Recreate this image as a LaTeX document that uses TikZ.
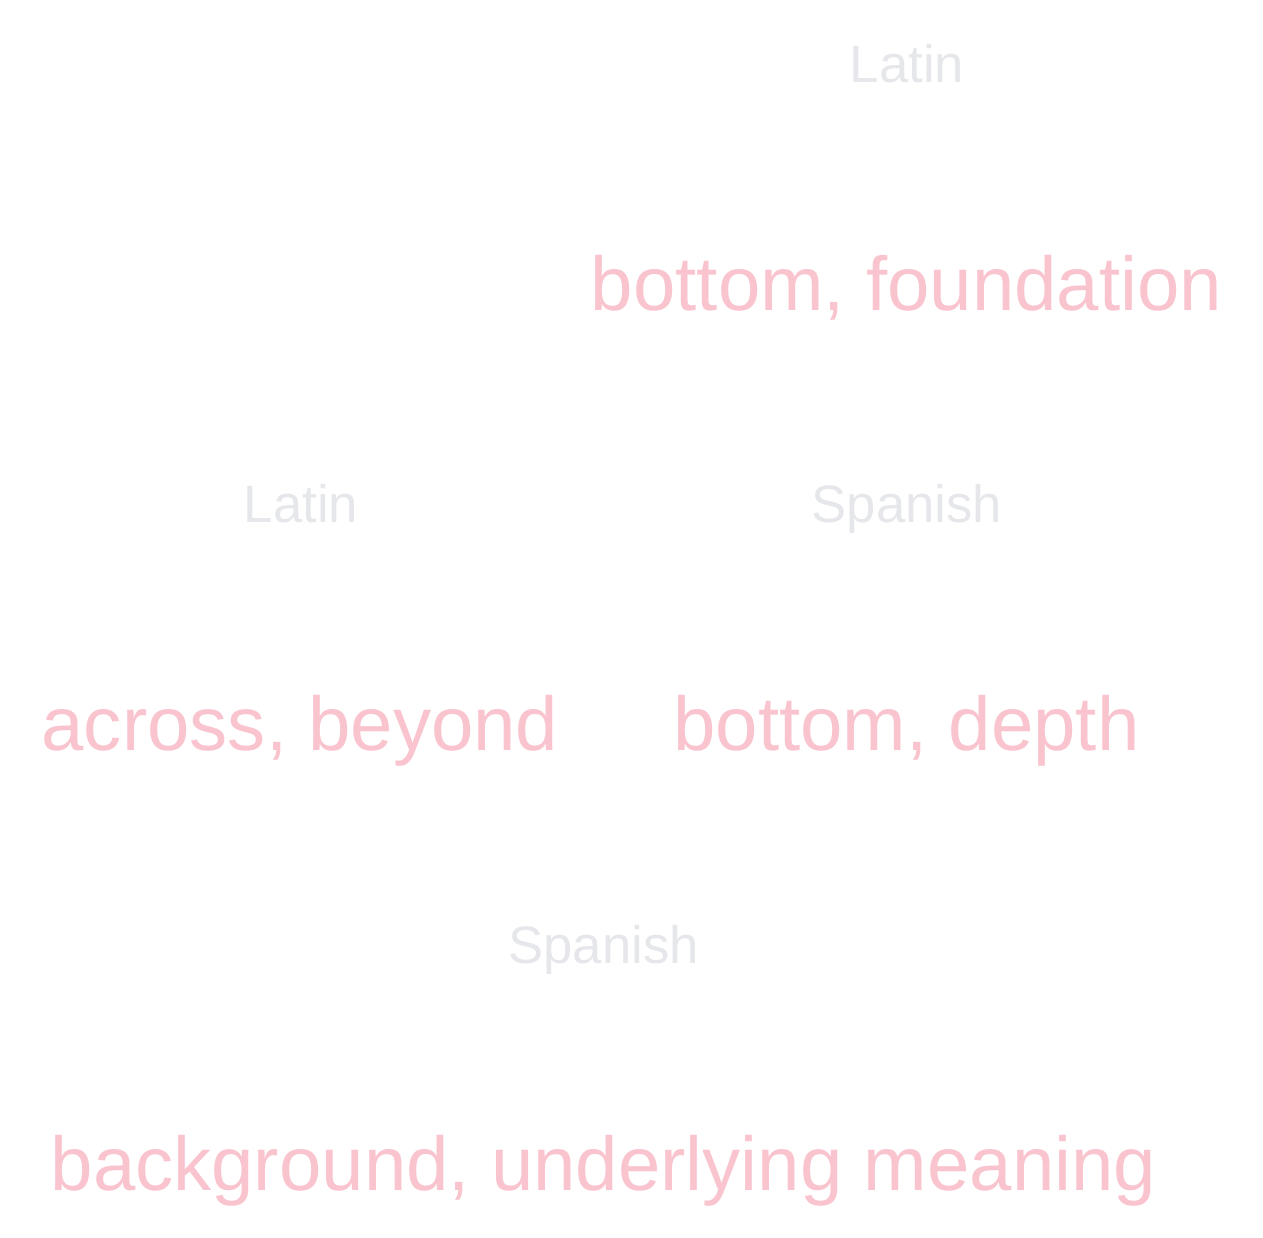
\documentclass[tikz,border=0pt]{standalone}
\usepackage{fontspec}
\setmainfont{Liberation Sans}
\definecolor{langgray}{RGB}{229,231,235}
\definecolor{wordpink}{RGB}{249,196,206}
\begin{document}
\begin{tikzpicture}[x=1pt,y=-1pt,
  lang/.style={inner sep=0pt,anchor=base,text=langgray,font=\fontsize{52.7}{60}\selectfont},
  word/.style={inner sep=0pt,anchor=base,text=wordpink,font=\fontsize{76.2}{86}\selectfont}]
\useasboundingbox (0,0) rectangle (1263,1237);
\node[lang] (l1) at (907,82) {Latin};
\node[word] (w1) at (906.5,310) {bottom, foundation};
\node[lang] (l2) at (301,522) {Latin};
\node[lang] (s1) at (907,522) {Spanish};
\node[word] (w2) at (300,750) {across, beyond};
\node[word] (w3) at (906.5,750) {bottom, depth};
\node[lang] (s2) at (603.5,963) {Spanish};
\node[word] (w4) at (603.5,1190) {background, underlying meaning};
\end{tikzpicture}
\end{document}
